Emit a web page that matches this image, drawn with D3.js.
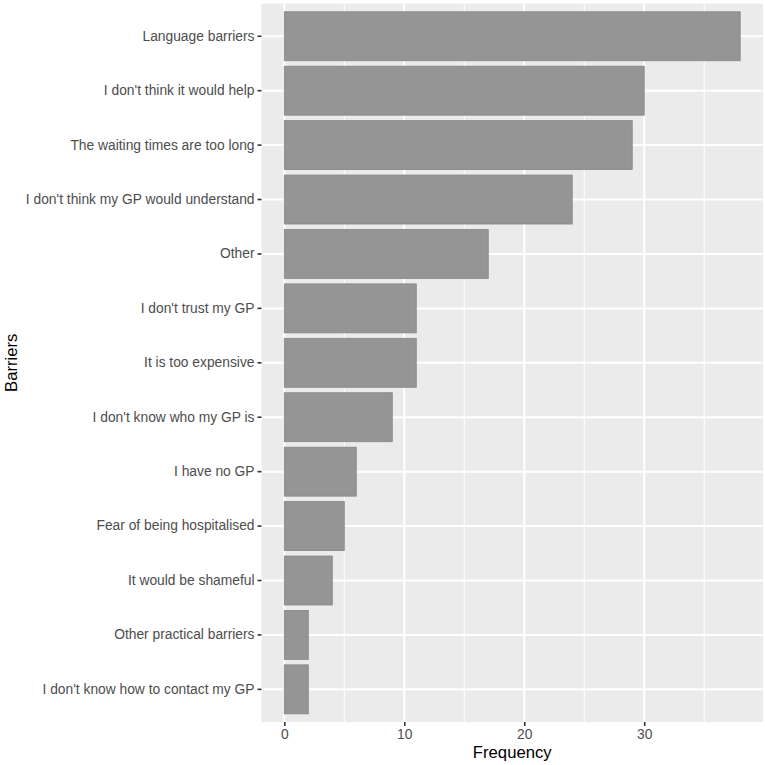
<!DOCTYPE html>
<html>
<head>
<meta charset="utf-8">
<script src="https://cdn.jsdelivr.net/npm/d3@7/dist/d3.min.js"></script>
<style>
html,body{margin:0;padding:0;background:#fff;}
text{font-family:"Liberation Sans",Arial,sans-serif;}
</style>
</head>
<body>
<svg id="chart" width="765" height="765"></svg>
<script>
const categories = [
  "Language barriers",
  "I don't think it would help",
  "The waiting times are too long",
  "I don't think my GP would understand",
  "Other",
  "I don't trust my GP",
  "It is too expensive",
  "I don't know who my GP is",
  "I have no GP",
  "Fear of being hospitalised",
  "It would be shameful",
  "Other practical barriers",
  "I don't know how to contact my GP"
];
const frequencies = [38, 30, 29, 24, 17, 11, 11, 9, 6, 5, 4, 2, 2];
const xTicks = [0, 10, 20, 30];
const xMinor = [5, 15, 25, 35];
const xTitle = "Frequency";
const yTitle = "Barriers";

const svg = d3.select("#chart");
const panel = {left: 261.5, right: 763, top: 3.6, bottom: 722};

const maxV = d3.max(frequencies);
const x = d3.scaleLinear()
  .domain([-0.05 * maxV, maxV * 1.05])
  .range([panel.left, panel.right]);

const n = categories.length;
const yc = d3.scaleLinear().domain([0.4, n + 0.6]).range([panel.top, panel.bottom]);
const y = d3.scaleBand().domain(categories)
  .range([yc(0.5), yc(n + 0.5)]).paddingInner(0.1).paddingOuter(0.05);

// panel background
svg.append("rect")
  .attr("x", panel.left).attr("y", panel.top)
  .attr("width", panel.right - panel.left).attr("height", panel.bottom - panel.top)
  .attr("fill", "#EBEBEB");

// minor gridlines
svg.append("g").selectAll("line").data(xMinor).join("line")
  .attr("x1", d => x(d)).attr("x2", d => x(d))
  .attr("y1", panel.top).attr("y2", panel.bottom)
  .attr("stroke", "#fff").attr("stroke-width", 1);

// major gridlines
svg.append("g").selectAll("line").data(xTicks).join("line")
  .attr("x1", d => x(d)).attr("x2", d => x(d))
  .attr("y1", panel.top).attr("y2", panel.bottom)
  .attr("stroke", "#fff").attr("stroke-width", 2);

svg.append("g").selectAll("line").data(categories).join("line")
  .attr("x1", panel.left).attr("x2", panel.right)
  .attr("y1", d => y(d) + y.bandwidth() / 2).attr("y2", d => y(d) + y.bandwidth() / 2)
  .attr("stroke", "#fff").attr("stroke-width", 2);

// bars
svg.append("g").selectAll("rect").data(categories).join("rect")
  .attr("x", x(0))
  .attr("y", d => y(d))
  .attr("width", (d, i) => x(frequencies[i]) - x(0))
  .attr("height", y.bandwidth())
  .attr("fill", "#959595")
  .attr("stroke", "#868686")
  .attr("stroke-width", 0.8);

// y axis
const yAxis = d3.axisLeft(y).tickSize(4).tickPadding(3);
const gy = svg.append("g").attr("transform", `translate(${panel.left},0)`).call(yAxis);
gy.select(".domain").remove();
gy.selectAll(".tick line").attr("stroke", "#333").attr("stroke-width", 1.6);
gy.selectAll(".tick text").attr("fill", "#4D4D4D").style("font-size", "13.8px")
  .style("font-family", "'Liberation Sans', Arial, sans-serif");

// x axis
const xAxis = d3.axisBottom(x).tickValues(xTicks).tickSize(4).tickPadding(3);
const gx = svg.append("g").attr("transform", `translate(0,${panel.bottom})`).call(xAxis);
gx.select(".domain").remove();
gx.selectAll(".tick line").attr("stroke", "#333").attr("stroke-width", 1.6);
gx.selectAll(".tick text").attr("fill", "#4D4D4D").style("font-size", "13.8px")
  .style("font-family", "'Liberation Sans', Arial, sans-serif");

// titles
svg.append("text")
  .attr("x", (panel.left + panel.right) / 2).attr("y", 758)
  .attr("text-anchor", "middle").attr("fill", "#000")
  .style("font-size", "16.7px").text(xTitle);

svg.append("text")
  .attr("transform", `translate(17,${(panel.top + panel.bottom) / 2}) rotate(-90)`)
  .attr("text-anchor", "middle").attr("fill", "#000")
  .style("font-size", "16.7px").text(yTitle);
</script>
</body>
</html>
